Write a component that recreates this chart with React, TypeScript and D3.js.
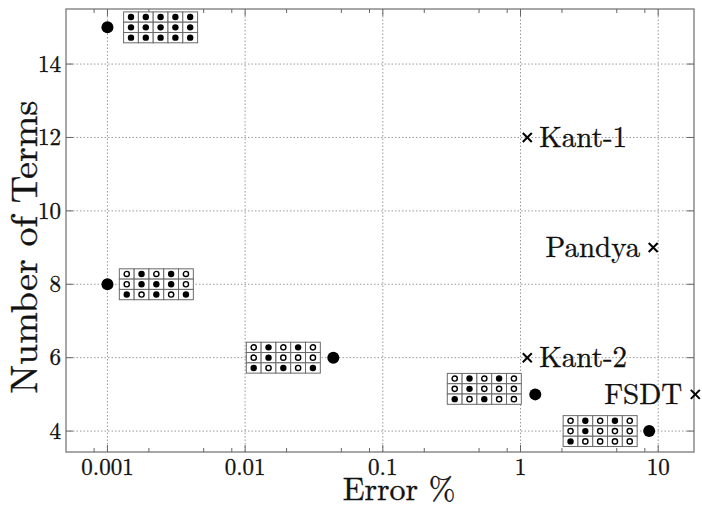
import { useEffect, useRef } from "react";
import * as d3 from "d3";

// solid circles: error of each model vs. number of terms
const circleErr = [0.001, 0.001, 0.0437, 1.28, 8.6];
const circleTerms = [15, 8, 6, 5, 4];

// crosses with their theory names
const crossNames = ["Kant-1", "Pandya", "Kant-2", "FSDT"];
const crossErr = [1.12, 9.2, 1.12, 18.6];
const crossTerms = [12, 9, 6, 5];
const crossSide = ["right", "left", "right", "left"];

// 3x5 term tables drawn next to each circle (1 = filled, 0 = open)
const tableErr = [0.00131, 0.00122, 0.0102, 0.294, 2.04]; // left edge of the table
const tableTerms = [15, 8, 6, 5.15, 4]; // middle row
const tables = [
  [[1, 1, 1, 1, 1], [1, 1, 1, 1, 1], [1, 1, 1, 1, 1]],
  [[0, 1, 0, 1, 0], [0, 1, 1, 1, 0], [1, 0, 1, 0, 1]],
  [[0, 1, 0, 1, 0], [0, 1, 0, 0, 0], [1, 0, 1, 0, 1]],
  [[0, 1, 0, 1, 0], [0, 1, 0, 0, 0], [1, 0, 1, 0, 0]],
  [[0, 1, 0, 1, 0], [0, 1, 0, 0, 0], [1, 0, 0, 0, 0]],
];

const xTicks = [0.001, 0.01, 0.1, 1, 10];
const xTickLabels = ["0.001", "0.01", "0.1", "1", "10"];
const xMinor = [0.0008, 0.002, 0.005, 0.008, 0.02, 0.05, 0.08, 0.2, 0.5, 0.8, 2, 5, 8];
const yTicks = [4, 6, 8, 10, 12, 14];

const FONT = `"Latin Modern Roman", "Liberation Serif", serif`;

export default function App() {
  const svgElem = useRef<SVGSVGElement>(null);

  useEffect(() => {
    const width = 702;
    const height = 508;
    const left = 66,
      right = 694,
      top = 9,
      bottom = 452;

    const svg = d3.select(svgElem.current);
    svg.selectAll("*").remove();
    svg.attr("width", width).attr("height", height);

    const x = d3.scaleLog().domain([0.0005, 18.2]).range([left, right]);
    const y = d3.scaleLinear().domain([3.43, 15.5]).range([bottom, top]);

    // scanned-looking text: a thin outline to thicken the Latin Modern strokes
    const label = (sel: any, size: number) =>
      sel
        .style("font-family", FONT)
        .attr("font-size", size)
        .attr("fill", "#111")
        .attr("stroke", "#111")
        .attr("stroke-width", 0.35);

    const grid = svg.append("g").attr("stroke", "#9a9a9a").attr("stroke-width", 1).attr("stroke-dasharray", "1.5,2");
    grid
      .selectAll("line.v")
      .data(xTicks)
      .join("line")
      .attr("x1", (d) => x(d))
      .attr("x2", (d) => x(d))
      .attr("y1", top)
      .attr("y2", bottom);
    grid
      .selectAll("line.h")
      .data(yTicks)
      .join("line")
      .attr("x1", left)
      .attr("x2", right)
      .attr("y1", (d) => y(d))
      .attr("y2", (d) => y(d));

    // frame
    svg
      .append("rect")
      .attr("x", left)
      .attr("y", top)
      .attr("width", right - left)
      .attr("height", bottom - top)
      .attr("fill", "none")
      .attr("stroke", "#8a8a8a")
      .attr("stroke-width", 1.5);

    // tick marks, inside on all four sides
    const ticks = svg.append("g").attr("stroke", "#666").attr("stroke-width", 1);
    const xAll = [...xTicks.map((v) => [v, 7]), ...xMinor.map((v) => [v, 4])];
    xAll.forEach(([v, len]) => {
      ticks.append("line").attr("x1", x(v)).attr("x2", x(v)).attr("y1", bottom).attr("y2", bottom - len);
      ticks.append("line").attr("x1", x(v)).attr("x2", x(v)).attr("y1", top).attr("y2", top + len);
    });
    yTicks.forEach((v) => {
      ticks.append("line").attr("x1", left).attr("x2", left + 7).attr("y1", y(v)).attr("y2", y(v));
      ticks.append("line").attr("x1", right).attr("x2", right - 7).attr("y1", y(v)).attr("y2", y(v));
    });

    // tick labels
    label(
      svg
        .append("g")
        .selectAll("text")
        .data(xTicks)
        .join("text")
        .attr("x", (d) => x(d))
        .attr("y", 475)
        .attr("text-anchor", "middle"),
      23
    ).text((d, i) => xTickLabels[i]);
    label(
      svg
        .append("g")
        .selectAll("text")
        .data(yTicks)
        .join("text")
        .attr("x", 61)
        .attr("y", (d) => y(d))
        .attr("dy", "0.34em")
        .attr("text-anchor", "end"),
      23
    ).text((d) => d);

    // axis titles
    label(svg.append("text").attr("x", 399).attr("y", 500).attr("text-anchor", "middle"), 32).text("Error %");
    label(
      svg
        .append("text")
        .attr("transform", `translate(37,${247}) rotate(-90)`)
        .attr("text-anchor", "middle"),
      38
    ).text("Number of Terms");

    // term tables
    const cw = 14.8,
      ch = 10.3;
    tables.forEach((tbl, k) => {
      const g = svg.append("g").attr("transform", `translate(${x(tableErr[k])},${y(tableTerms[k]) - 1.5 * ch})`);
      tbl.forEach((row, r) => {
        row.forEach((f, c) => {
          g.append("rect")
            .attr("x", c * cw)
            .attr("y", r * ch)
            .attr("width", cw)
            .attr("height", ch)
            .attr("fill", "white")
            .attr("stroke", "#6a6a6a")
            .attr("stroke-width", 1);
          g.append("circle")
            .attr("cx", c * cw + cw / 2)
            .attr("cy", r * ch + ch / 2)
            .attr("r", f ? 3.2 : 2.6)
            .attr("fill", f ? "black" : "white")
            .attr("stroke", "black")
            .attr("stroke-width", f ? 0 : 1.4);
        });
      });
    });

    // solid circles
    svg
      .append("g")
      .selectAll("circle")
      .data(circleErr)
      .join("circle")
      .attr("cx", (d) => x(d))
      .attr("cy", (d, i) => y(circleTerms[i]))
      .attr("r", 6)
      .attr("fill", "black");

    // crosses
    const cross = svg.append("g");
    crossErr.forEach((e, i) => {
      const cx = x(e),
        cy = y(crossTerms[i]),
        s = 4.5;
      cross
        .append("path")
        .attr("d", `M${cx - s},${cy - s}L${cx + s},${cy + s}M${cx - s},${cy + s}L${cx + s},${cy - s}`)
        .attr("stroke", "black")
        .attr("stroke-width", 2);
      const isRight = crossSide[i] === "right";
      label(
        cross
          .append("text")
          .attr("x", isRight ? cx + 12 : cx - 13)
          .attr("y", cy)
          .attr("dy", "0.33em")
          .attr("text-anchor", isRight ? "start" : "end"),
        29
      ).text(crossNames[i]);
    });
  }, []);

  return (
    <div style={{ position: "absolute", left: 0, top: 0 }}>
      <svg ref={svgElem} style={{ display: "block", background: "white" }}></svg>
    </div>
  );
}
